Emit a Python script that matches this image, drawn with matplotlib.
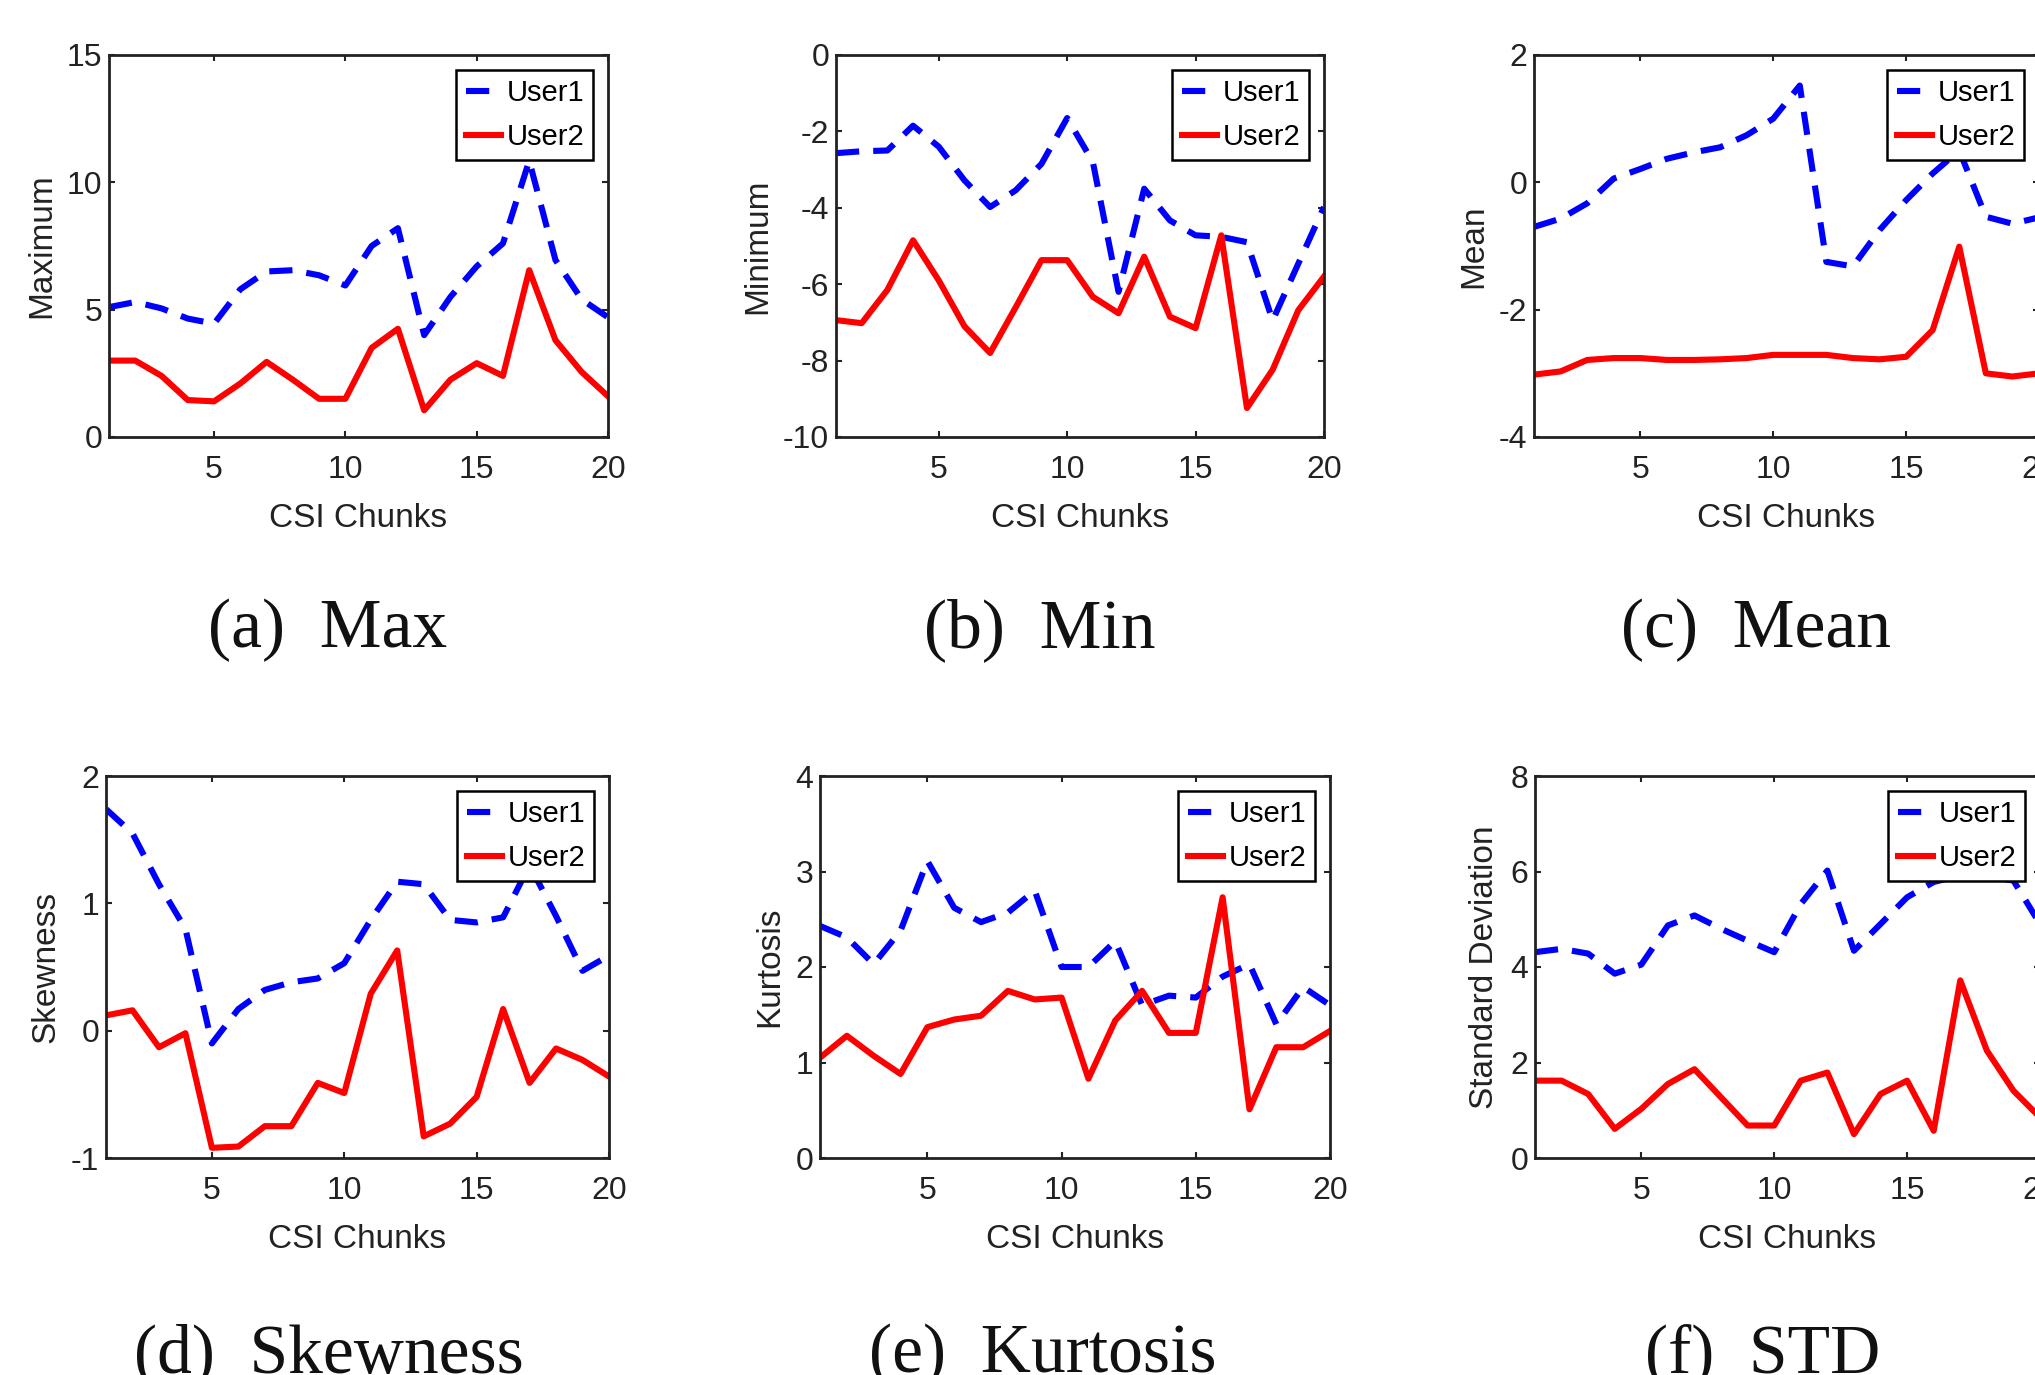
import matplotlib
matplotlib.use('Agg')
import matplotlib.pyplot as plt

plt.rcParams['font.family'] = ['Liberation Sans', 'DejaVu Sans']
plt.rcParams['axes.unicode_minus'] = False

W, H = 2035, 1375

chunks = list(range(1, 21))

# (a) Max
max_user1 = [5.1, 5.3, 5.05, 4.65, 4.45, 5.8, 6.5, 6.55, 6.35, 5.95,
             7.5, 8.2, 4.0, 5.5, 6.7, 7.6, 10.85, 6.95, 5.4, 4.7]
max_user2 = [3.0, 3.0, 2.4, 1.45, 1.4, 2.1, 2.95, 2.25, 1.5, 1.5,
             3.5, 4.25, 1.05, 2.25, 2.9, 2.4, 6.55, 3.8, 2.55, 1.6]

# (b) Min
min_user1 = [-2.57, -2.52, -2.5, -1.85, -2.4, -3.28, -3.98, -3.54, -2.85, -1.65,
             -2.8, -6.2, -3.5, -4.33, -4.72, -4.76, -4.9, -6.95, -5.46, -3.98]
min_user2 = [-6.94, -7.02, -6.15, -4.85, -5.9, -7.1, -7.8, -6.6, -5.37, -5.37,
             -6.33, -6.76, -5.28, -6.85, -7.15, -4.72, -9.24, -8.24, -6.68, -5.8]

# (c) Mean
mean_user1 = [-0.7, -0.57, -0.33, 0.06, 0.21, 0.37, 0.47, 0.55, 0.74, 1.0,
              1.52, -1.25, -1.32, -0.75, -0.28, 0.14, 0.5, -0.54, -0.65, -0.55]
mean_user2 = [-3.02, -2.97, -2.79, -2.76, -2.76, -2.79, -2.79, -2.78, -2.76, -2.71,
              -2.71, -2.71, -2.76, -2.78, -2.74, -2.32, -1.01, -3.0, -3.05, -3.0]

# (d) Skewness
skew_user1 = [1.74, 1.55, 1.15, 0.8, -0.1, 0.17, 0.32, 0.38, 0.41, 0.53,
              0.87, 1.17, 1.15, 0.87, 0.85, 0.89, 1.3, 0.9, 0.47, 0.59]
skew_user2 = [0.12, 0.16, -0.13, -0.02, -0.92, -0.91, -0.75, -0.75, -0.41, -0.49,
              0.29, 0.63, -0.83, -0.73, -0.52, 0.17, -0.41, -0.14, -0.23, -0.36]

# (e) Kurtosis
kurt_user1 = [2.43, 2.31, 2.03, 2.38, 3.11, 2.62, 2.47, 2.57, 2.8, 2.0,
              2.0, 2.27, 1.6, 1.7, 1.68, 1.9, 2.03, 1.4, 1.79, 1.6]
kurt_user2 = [1.05, 1.28, 1.07, 0.88, 1.37, 1.45, 1.49, 1.75, 1.66, 1.68,
              0.83, 1.44, 1.75, 1.31, 1.31, 2.73, 0.51, 1.16, 1.16, 1.33]

# (f) STD
std_user1 = [4.31, 4.38, 4.28, 3.86, 4.05, 4.87, 5.08, 4.8, 4.55, 4.31,
             5.32, 6.02, 4.34, 4.9, 5.46, 5.78, 5.92, 5.9, 5.81, 4.9]
std_user2 = [1.62, 1.62, 1.34, 0.61, 1.03, 1.55, 1.86, 1.27, 0.68, 0.68,
             1.62, 1.79, 0.5, 1.34, 1.62, 0.57, 3.72, 2.25, 1.41, 0.85]

panels = [
    ('Maximum', (0, 15), [0, 5, 10, 15], max_user1, max_user2, '(a)  Max'),
    ('Minimum', (-10, 0), [-10, -8, -6, -4, -2, 0], min_user1, min_user2, '(b)  Min'),
    ('Mean', (-4, 2), [-4, -2, 0, 2], mean_user1, mean_user2, '(c)  Mean'),
    ('Skewness', (-1, 2), [-1, 0, 1, 2], skew_user1, skew_user2, '(d)  Skewness'),
    ('Kurtosis', (0, 4), [0, 1, 2, 3, 4], kurt_user1, kurt_user2, '(e)  Kurtosis'),
    ('Standard Deviation', (0, 8), [0, 2, 4, 6, 8], std_user1, std_user2, '(f)  STD'),
]

# axes boxes in pixels: left, right, top, bottom
boxes = [(109, 608, 55, 437), (836, 1324, 55, 437), (1534, 2039, 55, 437),
         (106, 609, 776, 1158), (820, 1330, 776, 1158), (1535, 2040, 776, 1158)]
# caption centre x and baseline y in pixels
captions = [(328, 647), (1040, 647), (1756, 647),
            (329, 1372), (1043, 1372), (1763, 1372)]

fig = plt.figure(figsize=(W / 100, H / 100), dpi=100)

for (ylab, ylim, yticks, u1, u2, cap), (l, r, t, b), (cx, cy) in zip(panels, boxes, captions):
    ax = fig.add_axes([l / W, 1 - b / H, (r - l) / W, (b - t) / H])
    ax.plot(chunks, u1, color='#0000ff', lw=4.4, ls='--', dashes=(3.8, 2.3), label='User1')
    ax.plot(chunks, u2, color='#ff0000', lw=4.4, label='User2')
    ax.set_xlim(1, 20)
    ax.set_ylim(*ylim)
    ax.set_xticks([5, 10, 15, 20])
    ax.set_yticks(yticks)
    ax.tick_params(direction='in', top=True, right=True, length=4, width=1.5,
                   labelsize=23, colors='#222222')
    ax.tick_params(axis='x', pad=13)
    ax.tick_params(axis='y', pad=5)
    for sp in ax.spines.values():
        sp.set_linewidth(2)
        sp.set_color('#222222')
    ax.set_xlabel('CSI Chunks', fontsize=24, labelpad=13, color='#222222')
    ax.set_ylabel(ylab, fontsize=24, labelpad=7, color='#222222')
    leg = ax.legend(loc='upper right', fontsize=21, fancybox=False, framealpha=1,
                    edgecolor='k', borderaxespad=0.5, borderpad=0.32,
                    handlelength=1.2, handletextpad=0.2, labelspacing=0.55)
    leg.get_frame().set_linewidth(1.8)
    fig.text(cx / W, 1 - cy / H, cap, ha='center', va='baseline',
             fontsize=50, family=['Liberation Serif', 'DejaVu Serif'], color='#111111')

fig.savefig('out.png', dpi=100, facecolor='white')
